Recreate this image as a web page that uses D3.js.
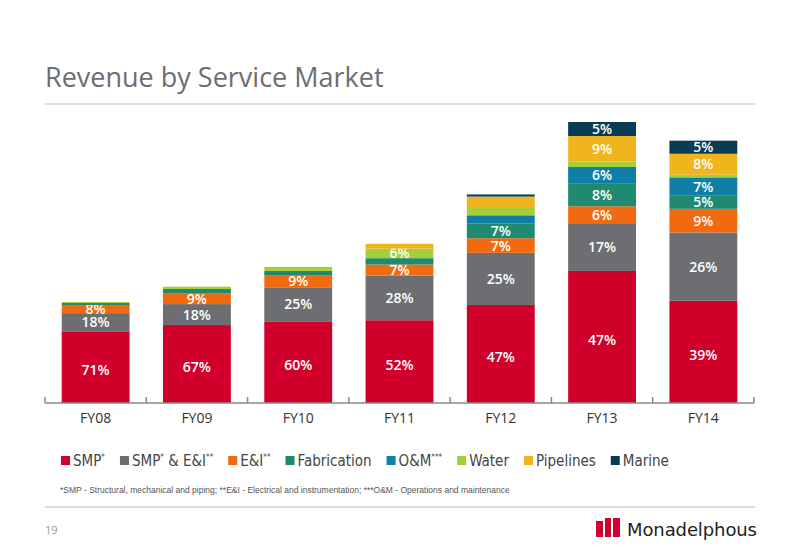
<!DOCTYPE html>
<html><head><meta charset="utf-8">
<script src="https://cdn.jsdelivr.net/npm/d3@7"></script>
<style>body{margin:0;background:#fff}svg{font-family:"Open Sans","DejaVu Sans",sans-serif}</style>
</head><body><svg id="chart" width="800" height="554"></svg>
<script>
// revenue totals ($m) and share by service market (%)
const years = ["FY08", "FY09", "FY10", "FY11", "FY12", "FY13", "FY14"];
const totals = [920, 1060, 1240, 1450, 1900, 2560, 2390];
const markets = ["SMP", "SMP & E&I", "E&I", "Fabrication", "O&M", "Water", "Pipelines", "Marine"];
const colors = ["#d0002a", "#6d6e71", "#f26a10", "#1f8a70", "#0f7fa8", "#a6ce39", "#f0b41c", "#083b54"];
const smp = [71, 67, 60, 52, 47, 47, 39];
const smpEi = [18, 18, 25, 28, 25, 17, 26];
const ei = [8, 9, 9, 7, 7, 6, 9];
const fabrication = [2, 4, 3, 4, 7, 8, 5];
const om = [0, 0, 0, 0, 4, 6, 7];
const water = [1, 2, 3, 6, 4, 2, 1];
const pipelines = [0, 0, 0, 3, 5, 9, 8];
const marine = [0, 0, 0, 0, 1, 5, 5];
// which segments carry a % label (0 = no label)
const shown = [
  [1, 1, 1, 0, 0, 0, 0, 0],
  [1, 1, 1, 0, 0, 0, 0, 0],
  [1, 1, 1, 0, 0, 0, 0, 0],
  [1, 1, 1, 0, 0, 1, 0, 0],
  [1, 1, 1, 1, 0, 0, 0, 0],
  [1, 1, 1, 1, 1, 0, 1, 1],
  [1, 1, 1, 1, 1, 0, 1, 1]
];
const legendLabels = [["SMP", "*"], ["SMP", "*", " & E&I", "**"], ["E&I", "**"], ["Fabrication"], ["O&M", "***"], ["Water"], ["Pipelines"], ["Marine"]];

const shares = [smp, smpEi, ei, fabrication, om, water, pipelines, marine];
const rows = years.map((y, i) => {
  const r = {year: y, i: i};
  markets.forEach((m, k) => r[m] = totals[i] * shares[k][i] / 100);
  return r;
});

const svg = d3.select("#chart");
const grey = "#6d6e71";

svg.append("text").attr("x", 45).attr("y", 87).attr("font-size", 27).attr("fill", grey)
  .text("Revenue by Service Market");
svg.append("line").attr("x1", 45).attr("x2", 755).attr("y1", 104).attr("y2", 104)
  .attr("stroke", "#bbb").attr("stroke-width", 1);

const x = d3.scaleBand().domain(years).range([45, 754]).paddingInner(0.33).paddingOuter(0.165);
const y = d3.scaleLinear().domain([0, 2560]).range([403, 122]);

const stack = d3.stack().keys(markets)(rows);
const g = svg.append("g");
stack.forEach((layer, k) => {
  g.selectAll(null).data(layer).enter().append("rect")
    .attr("x", d => x(d.data.year)).attr("width", x.bandwidth())
    .attr("y", d => y(d[1])).attr("height", d => Math.max(0, y(d[0]) - y(d[1])))
    .attr("fill", colors[k]);
  g.selectAll(null).data(layer.filter(d => shown[d.data.i][k])).enter().append("text")
    .attr("x", d => x(d.data.year) + x.bandwidth() / 2)
    .attr("y", d => (y(d[0]) + y(d[1])) / 2 + (k === 0 ? 8 : 5))
    .attr("text-anchor", "middle").attr("fill", "#fff").attr("font-size", 14)
    .attr("font-weight", 600)
    .text(d => shares[k][d.data.i] + "%");
});

// axis
const ax = svg.append("g").attr("transform", "translate(0,403)");
ax.append("line").attr("x1", 45).attr("x2", 754).attr("stroke", "#888").attr("stroke-width", 1.5);
const step = x.step();
d3.range(8).forEach(j => ax.append("line").attr("x1", 45 + j * step).attr("x2", 45 + j * step)
  .attr("y1", -6).attr("y2", 0).attr("stroke", "#888").attr("stroke-width", 1.5));
ax.selectAll(null).data(years).enter().append("text")
  .attr("x", d => x(d) + x.bandwidth() / 2).attr("y", 20).attr("text-anchor", "middle")
  .attr("font-size", 14).attr("fill", "#333").text(d => d);

// legend
const lg = svg.append("g").attr("font-family", "'Liberation Sans Narrow','DejaVu Sans Condensed',sans-serif");
let lx = 61;
legendLabels.forEach((parts, k) => {
  lg.append("rect").attr("x", lx).attr("y", 456).attr("width", 9).attr("height", 9).attr("fill", colors[k]);
  const t = lg.append("text").attr("x", lx + 12).attr("y", 466).attr("font-size", 15).attr("fill", "#444")
    .attr("xml:space", "preserve");
  parts.forEach(p => {
    const sup = /^\*+$/.test(p);
    if (sup) t.append("tspan").attr("font-size", 8).attr("dy", -6).text(p);
    else t.append("tspan").attr("font-size", 15).attr("y", 466).text(p);
  });
  lx += 12 + t.node().getComputedTextLength() + 15;
});
svg.append("text").attr("x", 60).attr("y", 493).attr("font-size", 8.5).attr("fill", "#555")
  .attr("font-family", "'Liberation Sans Narrow',sans-serif")
  .text("*SMP - Structural, mechanical and piping; **E&I - Electrical and instrumentation; ***O&M - Operations and maintenance");

svg.append("line").attr("x1", 45).attr("x2", 755).attr("y1", 507).attr("y2", 507).attr("stroke", "#bbb");
svg.append("text").attr("x", 45).attr("y", 534).attr("font-size", 11).attr("fill", "#999").text("19");

// logo
const logo = svg.append("g");
logo.append("rect").attr("x", 596).attr("y", 521).attr("width", 7).attr("height", 16).attr("fill", "#d0002a");
logo.append("rect").attr("x", 605).attr("y", 518).attr("width", 6).attr("height", 19).attr("fill", "#d0002a");
logo.append("rect").attr("x", 613).attr("y", 518).attr("width", 7).attr("height", 19).attr("fill", "#d0002a");
logo.append("text").attr("x", 627).attr("y", 536).attr("font-size", 18).attr("fill", "#222")
  .attr("font-family", "'DejaVu Sans',sans-serif").attr("textLength", 130).text("Monadelphous");
</script></body></html>
